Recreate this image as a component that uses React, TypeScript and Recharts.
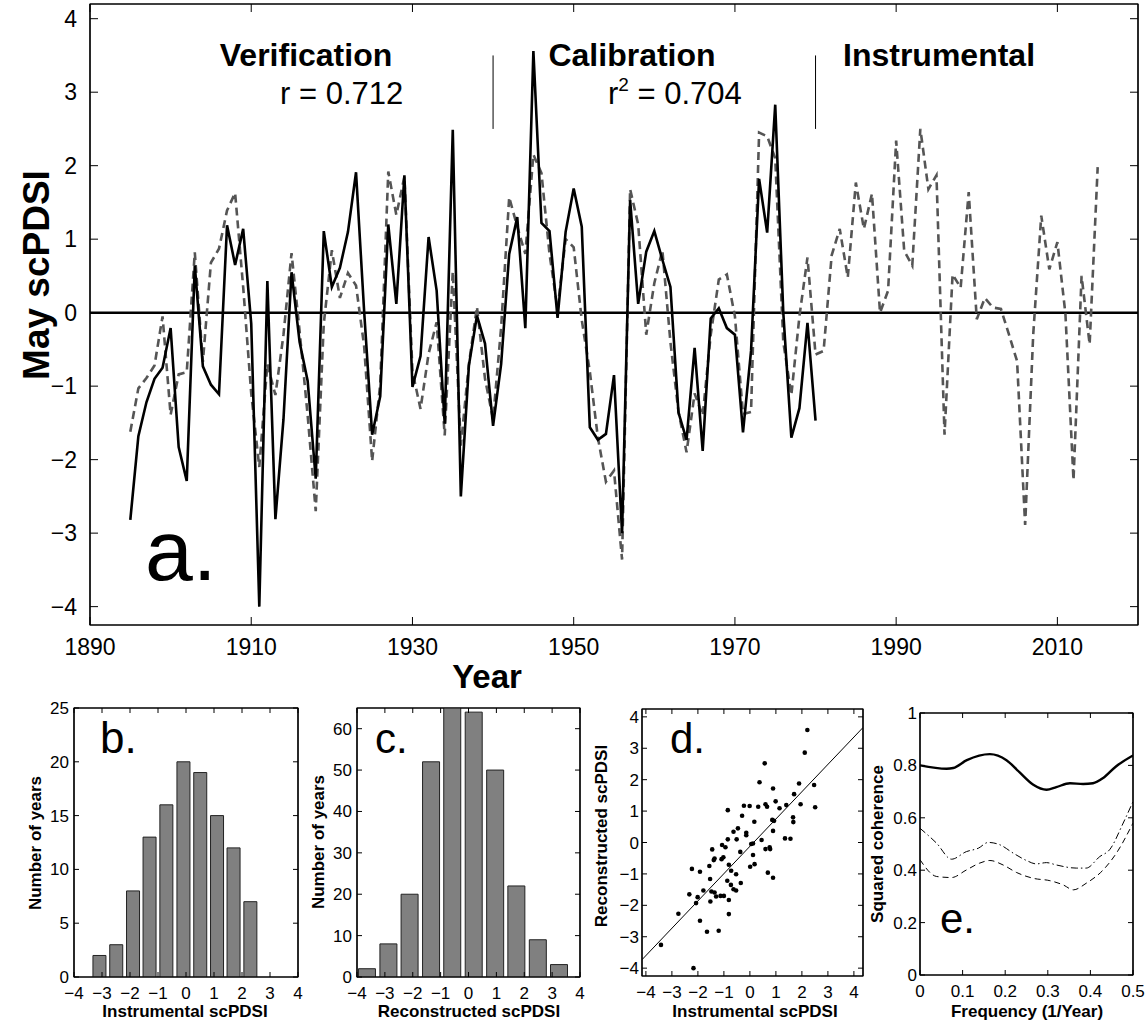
import React from 'react';
import { ComposedChart, Line, Bar, Scatter, XAxis, YAxis, ReferenceLine, ReferenceArea } from 'recharts';

const FONT = '"Liberation Sans", Arial, Helvetica, sans-serif';

// ---------- Panel a: time series ----------
const startYear = 1895;
const reconValues = [
  -2.82, -1.68, -1.22, -0.90, -0.75, -0.21, -1.83, -2.29, 0.64, -0.73,
  -0.98, -1.11, 1.19, 0.65, 1.14, -0.15, -4.0, 0.43, -2.81, -1.45,
  0.55, -0.40, -0.93, -2.26, 1.11, 0.35, 0.61, 1.10, 1.91, 0.03,
  -1.66, -1.14, 1.20, 0.12, 1.87, -1.01, -0.59, 1.03, 0.30, -1.51,
  2.49, -2.50, -0.72, -0.04, -0.42, -1.54, -0.70, 0.80, 1.30, -0.21,
  3.56, 1.22, 1.11, -0.07, 1.10, 1.69, 1.17, -1.56, -1.73, -1.65,
  -0.85, -3.00, 1.53, 0.12, 0.83, 1.11, 0.72, 0.35, -1.36, -1.73,
  -0.48, -1.88, -0.08, 0.06, -0.21, -0.30, -1.63, -0.52, 1.82, 1.09,
  2.83, 0.0, -1.70, -1.30, -0.14, -1.47,
];
const instrValues = [
  -1.62, -1.03, -0.89, -0.72, -0.05, -1.39, -0.84, -0.81, 0.82, -0.67,
  0.68, 0.87, 1.39, 1.63, 0.35, -1.10, -2.10, -0.70, -1.12, -0.30,
  0.81, -0.25, -1.40, -2.70, -0.15, 0.85, 0.20, 0.54, 0.37, -0.45,
  -2.02, -0.97, 1.92, 1.33, 1.85, -0.80, -1.31, -0.56, -0.13, -1.67,
  0.56, -1.81, -0.70, 0.08, -0.90, -1.45, -0.20, 1.57, 1.17, 0.80,
  2.15, 1.90, 0.80, 0.05, 1.00, 0.89, -0.10, -0.80, -1.70, -2.30,
  -2.15, -3.36, 1.68, 1.20, -0.30, 0.40, 0.85, -0.40, -1.35, -1.90,
  -1.10, -1.40, -0.30, 0.45, 0.52, -0.05, -1.38, -1.35, 2.45, 2.40,
  2.10, -0.40, -1.12, -0.05, 0.75, -0.57, -0.52, 0.78, 1.14, 0.48,
  1.77, 1.14, 1.62, 0.00, 0.30, 2.34, 0.84, 0.64, 2.50, 1.68,
  1.87, -1.66, 0.52, 0.34, 1.64, -0.09, 0.20, 0.07, 0.05, -0.30,
  -0.66, -2.89, -0.30, 1.32, 0.59, 0.96, -0.02, -2.28, 0.50, -0.43,
  1.98,
];
const yearTicks = [1890, 1910, 1930, 1950, 1970, 1990, 2010];
const mainYTicks = [-4, -3, -2, -1, 0, 1, 2, 3, 4];
const periodBreaks = [1940, 1980];

// ---------- Panel b: histogram of instrumental ----------
const histBCenters = [-3.1, -2.5, -1.9, -1.31, -0.71, -0.1, 0.5, 1.1, 1.69, 2.29];
const histBCounts = [2, 3, 8, 13, 16, 20, 19, 15, 12, 7];
const histBYTicks = [0, 5, 10, 15, 20, 25];

// ---------- Panel c: histogram of reconstructed ----------
const histCCenters = [-3.64, -2.87, -2.11, -1.34, -0.58, 0.19, 0.96, 1.72, 2.49, 3.25];
const histCCounts = [2, 8, 20, 52, 68, 64, 50, 22, 9, 3];
const histCYTicks = [0, 10, 20, 30, 40, 50, 60];

const pdsiTicks = [-4, -3, -2, -1, 0, 1, 2, 3, 4];

// ---------- Panel d: scatter ----------
const scatterX = [2.21, 2.11, 0.57, 0.37, 1.89, 0.89, 2.47, 1.70, 0.99, -0.85,
  -0.23, -0.01, 0.32, 0.60, 0.66, 1.14, 1.40, 1.95, 2.51, -0.30,
  0.86, 0.93, 1.66, 1.67, 0.17, -0.46, -0.63, 0.89, -0.14, -0.14,
  -0.85, -0.51, 0.45, 1.35, 1.56, 0.12, 0.05, 0.60, 0.76, 0.78,
  -1.45, -0.37, -1.07, -0.94, -1.36, -1.39, -1.02, -1.09, 0.12, -1.56,
  -0.81, 0.18, 0.01, -1.53, -0.72, -0.53, 0.69, 0.89, -0.87, -0.35,
  -2.23, -1.92, -1.79, -1.48, -1.36, -1.30, -2.33, -2.01, -1.13, -1.00,
  -0.73, -0.63, -0.53, -0.81, -2.07, -1.52, -2.75, -0.81, -1.92, -1.65,
  -1.20, -3.42, -2.17];
const scatterY = [3.58, 2.86, 2.52, 1.92, 1.88, 1.72, 1.83, 1.54, 1.31, 1.03,
  1.17, 1.16, 1.14, 1.22, 1.14, 1.09, 1.19, 1.22, 1.12, 0.85,
  0.72, 0.69, 0.80, 0.65, 0.66, 0.45, 0.34, 0.37, 0.31, 0.23,
  0.10, 0.10, 0.08, 0.13, 0.12, -0.03, -0.05, -0.21, -0.15, -0.21,
  -0.22, -0.30, -0.08, -0.15, -0.51, -0.56, -0.47, -0.53, -0.40, -0.75,
  -0.71, -0.69, -0.77, -1.16, -0.90, -1.01, -0.96, -1.12, -1.22, -1.29,
  -0.84, -0.93, -1.53, -1.56, -1.59, -1.72, -1.65, -1.74, -1.70, -1.70,
  -1.35, -1.49, -1.53, -1.83, -1.93, -1.88, -2.27, -2.28, -2.49, -2.84,
  -2.81, -3.26, -4.0];
const fitX = [-4.15, 4.35];
const fitY = [-3.73, 3.66];

// ---------- Panel e: coherence ----------
const cohF = [0, 0.0625, 0.078, 0.11, 0.164, 0.203, 0.234, 0.266, 0.297, 0.32, 0.352, 0.383, 0.406, 0.43, 0.46, 0.5];
const cohV = [0.80, 0.787, 0.79, 0.82, 0.843, 0.82, 0.773, 0.726, 0.707, 0.717, 0.732, 0.729, 0.732, 0.752, 0.796, 0.838];
const conf95F = [0, 0.039, 0.074, 0.109, 0.137, 0.16, 0.1875, 0.219, 0.25, 0.273, 0.297, 0.32, 0.367, 0.39, 0.422, 0.445, 0.477, 0.5];
const conf95V = [0.56, 0.503, 0.442, 0.471, 0.484, 0.506, 0.497, 0.465, 0.437, 0.424, 0.429, 0.42, 0.408, 0.408, 0.452, 0.478, 0.58, 0.662];
const conf90F = [0, 0.039, 0.074, 0.109, 0.14, 0.164, 0.195, 0.227, 0.266, 0.305, 0.336, 0.36, 0.39, 0.43, 0.461, 0.5];
const conf90V = [0.44, 0.376, 0.372, 0.401, 0.427, 0.437, 0.42, 0.391, 0.369, 0.36, 0.344, 0.325, 0.35, 0.401, 0.465, 0.58];
const freqTicks = [0, 0.1, 0.2, 0.3, 0.4, 0.5];
const cohYTicks = [0, 0.2, 0.4, 0.6, 0.8, 1];

// ---------- derived tables ----------
const mainData = instrValues.map((v, i) => ({
  year: startYear + i,
  instr: v,
  recon: i < reconValues.length ? reconValues[i] : null,
}));
const histBData = histBCenters.map((c, i) => ({ x: c, n: histBCounts[i] }));
const histCData = histCCenters.map((c, i) => ({ x: c, n: histCCounts[i] }));
const scatterData = scatterX.map((x, i) => ({ x, y: scatterY[i] }));
const fitData = fitX.map((x, i) => ({ x, y: fitY[i] }));
const cohData = cohF.map((f, i) => ({ f, v: cohV[i] }));
const conf95Data = conf95F.map((f, i) => ({ f, v: conf95V[i] }));
const conf90Data = conf90F.map((f, i) => ({ f, v: conf90V[i] }));

const fmtNum = (v: number) => (v < 0 ? '\u2212' + Math.abs(v) : String(v));
const blank = () => '';

const frame = (
  xKey: string,
  xDomain: number[],
  xTicks: number[],
  yDomain: number[],
  yTicks: number[],
  fs: number,
  tick: number,
  xMargin: number,
  yMargin: number,
  xH: number,
  yW: number,
) => {
  const ts = { fontSize: fs, fill: '#000', fontFamily: FONT };
  const ax = { stroke: '#000', strokeWidth: 1.2 };
  return [
    <XAxis key="xb" xAxisId="b" dataKey={xKey} type="number" domain={xDomain} ticks={xTicks} interval={0}
      allowDataOverflow height={xH} tickSize={-tick} tickMargin={tick + xMargin} tick={ts}
      tickFormatter={fmtNum} axisLine={ax} tickLine={{ stroke: '#000' }} />,
    <XAxis key="xt" xAxisId="t" orientation="top" dataKey={xKey} type="number" domain={xDomain} ticks={xTicks}
      interval={0} allowDataOverflow height={1} tickSize={-tick} tickFormatter={blank} tick={ts}
      axisLine={ax} tickLine={{ stroke: '#000' }} />,
    <YAxis key="yl" yAxisId="l" type="number" domain={yDomain} ticks={yTicks} interval={0} allowDataOverflow
      width={yW} tickSize={-tick} tickMargin={tick + yMargin} tick={ts} tickFormatter={fmtNum}
      axisLine={ax} tickLine={{ stroke: '#000' }} />,
    <YAxis key="yr" yAxisId="r" orientation="right" type="number" domain={yDomain} ticks={yTicks} interval={0}
      allowDataOverflow width={1} tickSize={-tick} tickFormatter={blank} tick={ts}
      axisLine={ax} tickLine={{ stroke: '#000' }} />,
    <ReferenceArea key="box" xAxisId="b" yAxisId="l" x1={xDomain[0]} x2={xDomain[1]} y1={yDomain[0]} y2={yDomain[1]}
      fill="none" fillOpacity={0} stroke="#000" strokeWidth={1.2} ifOverflow="visible" />,
  ];
};

const Dot = (p: any) => <circle cx={p.cx} cy={p.cy} r={2.3} fill="#000" />;

const abs = (left: number, top: number): React.CSSProperties => ({ position: 'absolute', left, top });

export default function App() {
  return (
    <div style={{ position: 'absolute', left: 0, top: 0, width: 1148, height: 1022, background: '#fff', fontFamily: FONT }}>
      {/* Panel a */}
      <div style={abs(0, 0)}>
        <ComposedChart width={1148} height={700} data={mainData} margin={{ top: 3, right: 9, left: 0, bottom: 0 }}>
          {frame('year', [1890, 2020], yearTicks, [-4.25, 4.2], mainYTicks, 23, 8, 14, 13, 75, 90)}
          <ReferenceLine xAxisId="b" yAxisId="l" y={0} stroke="#000" strokeWidth={2.5} />
          {periodBreaks.map((yr) => (
            <ReferenceLine key={yr} xAxisId="b" yAxisId="l"
              segment={[{ x: yr, y: 3.5 }, { x: yr, y: 2.5 }]} stroke="#000" strokeWidth={1} />
          ))}
          <Line xAxisId="b" yAxisId="l" dataKey="instr" type="linear" stroke="#555" strokeWidth={2.6}
            strokeDasharray="8 5" dot={false} isAnimationActive={false} />
          <Line xAxisId="b" yAxisId="l" dataKey="recon" type="linear" stroke="#000" strokeWidth={2.6}
            dot={false} isAnimationActive={false} connectNulls={false} />
        </ComposedChart>
      </div>

      {/* Panel b */}
      <div style={abs(14, 700)}>
        <ComposedChart width={294} height={322} data={histBData} margin={{ top: 7, right: 9, left: 0, bottom: 0 }}>
          {frame('x', [-4, 4], pdsiTicks, [0, 25], histBYTicks, 17, 5, 10, 5, 45, 60)}
          <Bar xAxisId="b" yAxisId="l" dataKey="n" barSize={13} fill="#808080" stroke="#222" strokeWidth={1}
            isAnimationActive={false} />
        </ComposedChart>
      </div>

      {/* Panel c */}
      <div style={abs(297, 700)}>
        <ComposedChart width={293} height={322} data={histCData} margin={{ top: 7, right: 9, left: 0, bottom: 0 }}>
          {frame('x', [-4, 4], pdsiTicks, [0, 65], histCYTicks, 17, 5, 10, 5, 45, 60)}
          <Bar xAxisId="b" yAxisId="l" dataKey="n" barSize={17} fill="#808080" stroke="#222" strokeWidth={1}
            isAnimationActive={false} />
        </ComposedChart>
      </div>

      {/* Panel d */}
      <div style={abs(582, 700)}>
        <ComposedChart width={291} height={322} margin={{ top: 8, right: 9, left: 0, bottom: 0 }}>
          {frame('x', [-4.15, 4.35], pdsiTicks, [-4.25, 4.25], pdsiTicks, 17, 5, 10, 3, 46, 60)}
          <Line xAxisId="b" yAxisId="l" data={fitData} dataKey="y" type="linear" stroke="#000" strokeWidth={1}
            dot={false} isAnimationActive={false} />
          <Scatter xAxisId="b" yAxisId="l" data={scatterData} dataKey="y" fill="#000" shape={Dot}
            isAnimationActive={false} />
        </ComposedChart>
      </div>

      {/* Panel e */}
      <div style={abs(860, 700)}>
        <ComposedChart width={288} height={322} margin={{ top: 12, right: 14, left: 0, bottom: 0 }}>
          {frame('f', [0, 0.5], freqTicks, [0, 1], cohYTicks, 17, 5, 10, 3, 47, 60)}
          <Line xAxisId="b" yAxisId="l" data={conf95Data} dataKey="v" type="monotone" stroke="#000" strokeWidth={1}
            strokeDasharray="7 3 1.5 3" dot={false} isAnimationActive={false} />
          <Line xAxisId="b" yAxisId="l" data={conf90Data} dataKey="v" type="monotone" stroke="#000" strokeWidth={1}
            strokeDasharray="6 4" dot={false} isAnimationActive={false} />
          <Line xAxisId="b" yAxisId="l" data={cohData} dataKey="v" type="monotone" stroke="#000" strokeWidth={2.4}
            dot={false} isAnimationActive={false} />
        </ComposedChart>
      </div>

      {/* Text overlay */}
      <svg width={1148} height={1022} style={{ position: 'absolute', left: 0, top: 0, pointerEvents: 'none' }}
        fontFamily={FONT}>
        <text x={306} y={66} fontSize={32} fontWeight="bold" textAnchor="middle">Verification</text>
        <text x={280} y={104} fontSize={31}>r = 0.712</text>
        <text x={632} y={66} fontSize={32} fontWeight="bold" textAnchor="middle">Calibration</text>
        <text x={608} y={104} fontSize={31}>
          <tspan>r</tspan>
          <tspan fontSize={19} dy={-13}>2</tspan>
          <tspan dy={13}> = 0.704</tspan>
        </text>
        <text x={939} y={66} fontSize={32} fontWeight="bold" textAnchor="middle">Instrumental</text>
        <text x={145} y={580} fontSize={86}>a.</text>
        <text x={487} y={688} fontSize={33} fontWeight="bold" textAnchor="middle">Year</text>
        <text transform="translate(49,275) rotate(-90)" fontSize={37} fontWeight="bold" textAnchor="middle">May scPDSI</text>

        <text x={100} y={753} fontSize={44}>b.</text>
        <text x={375} y={753} fontSize={42}>c.</text>
        <text x={670} y={753} fontSize={42}>d.</text>
        <text x={940} y={933} fontSize={42}>e.</text>

        <text transform="translate(41,843) rotate(-90)" fontSize={17} fontWeight="bold" textAnchor="middle">Number of years</text>
        <text x={185} y={1017} fontSize={17} fontWeight="bold" textAnchor="middle">Instrumental scPDSI</text>
        <text transform="translate(324,842) rotate(-90)" fontSize={17} fontWeight="bold" textAnchor="middle">Number of years</text>
        <text x={469} y={1017} fontSize={17} fontWeight="bold" textAnchor="middle">Reconstructed scPDSI</text>
        <text transform="translate(607,836) rotate(-90)" fontSize={17} fontWeight="bold" textAnchor="middle">Reconstructed scPDSI</text>
        <text x={755} y={1017} fontSize={17} fontWeight="bold" textAnchor="middle">Instrumental scPDSI</text>
        <text transform="translate(883,844) rotate(-90)" fontSize={17} fontWeight="bold" textAnchor="middle">Squared coherence</text>
        <text x={1027} y={1017} fontSize={17} fontWeight="bold" textAnchor="middle">Frequency (1/Year)</text>
      </svg>
    </div>
  );
}
